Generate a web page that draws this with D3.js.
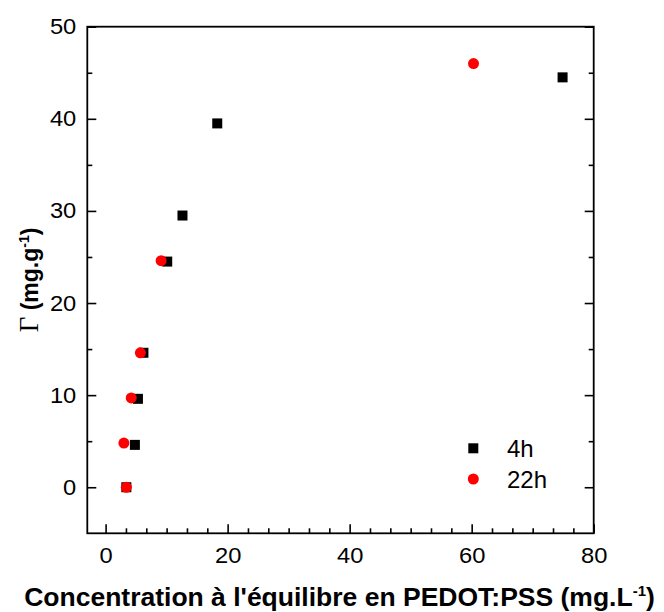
<!DOCTYPE html>
<html><head><meta charset="utf-8">
<script src="https://cdn.jsdelivr.net/npm/d3@7"></script>
<style>
body{margin:0;background:#fff;}
svg{display:block;font-family:Arial,"Liberation Sans",sans-serif;}
</style></head><body>
<svg id="c" width="664" height="612"></svg>
<script>
const series4hX = [3.4, 4.8, 5.3, 6.2, 10.1, 12.6, 18.3, 74.9];
const series4hY = [0.0, 4.6, 9.6, 14.6, 24.5, 29.5, 39.5, 44.5];
const series22hX = [3.4, 3.0, 4.2, 5.7, 9.1, 60.3];
const series22hY = [0.0, 4.8, 9.7, 14.6, 24.6, 46.0];
const xTicks = [0, 20, 40, 60, 80];
const yTicks = [0, 10, 20, 30, 40, 50];
const seriesNames = ["4h", "22h"];

const svg = d3.select("#c");
const L = 87.3, R = 593.7, T = 26.7, B = 533.3;
const x = d3.scaleLinear().domain([-3, 80]).range([L, R]);
const y = d3.scaleLinear().domain([-5, 50]).range([B, T]);

const xMinor = d3.range(1, 25).map(i => i * 20 / 6).filter(v => v % 20 > 0.01 && v % 20 < 19.99);
const yMinor = [5, 15, 25, 35, 45];

function styleAxis(g){
  g.select(".domain").remove();
  g.selectAll(".tick line").attr("stroke", "#000").attr("stroke-width", 1.6);
  g.selectAll(".tick text").attr("font-size", 22).attr("fill", "#000")
    .attr("font-family", "Arial, 'Liberation Sans', sans-serif")
    .attr("textLength", function(){ return this.textContent.length * 13.2; })
    .attr("lengthAdjust", "spacingAndGlyphs");
}

// bottom axis
svg.append("g").attr("transform", `translate(0,${B})`)
  .call(d3.axisBottom(x).tickValues(xTicks).tickSize(-9).tickPadding(14).tickFormat(d3.format("d")))
  .call(styleAxis);
svg.append("g").attr("transform", `translate(0,${B})`)
  .call(d3.axisBottom(x).tickValues(xMinor).tickSize(-5).tickFormat(""))
  .call(styleAxis);
// left axis
svg.append("g").attr("transform", `translate(${L},0)`)
  .call(d3.axisLeft(y).tickValues(yTicks).tickSize(-9).tickPadding(11).tickFormat(d3.format("d")))
  .call(styleAxis);
svg.append("g").attr("transform", `translate(${L},0)`)
  .call(d3.axisLeft(y).tickValues(yMinor).tickSize(-5).tickFormat(""))
  .call(styleAxis);
// right axis
svg.append("g").attr("transform", `translate(${R},0)`)
  .call(d3.axisRight(y).tickValues(yTicks).tickSize(-9).tickFormat(""))
  .call(styleAxis);
svg.append("g").attr("transform", `translate(${R},0)`)
  .call(d3.axisRight(y).tickValues(yMinor).tickSize(-5).tickFormat(""))
  .call(styleAxis);

// frame
svg.append("rect").attr("x", L).attr("y", T).attr("width", R - L).attr("height", B - T)
  .attr("fill", "none").attr("stroke", "#000").attr("stroke-width", 1.8);

// data
const d4 = series4hX.map((v, i) => ({x: v, y: series4hY[i]}));
const d22 = series22hX.map((v, i) => ({x: v, y: series22hY[i]}));
const sq = 10;
svg.append("g").selectAll("rect").data(d4).join("rect")
  .attr("x", d => x(d.x) - sq / 2).attr("y", d => y(d.y) - sq / 2)
  .attr("width", sq).attr("height", sq).attr("fill", "#000");
svg.append("g").selectAll("circle").data(d22).join("circle")
  .attr("cx", d => x(d.x)).attr("cy", d => y(d.y)).attr("r", 5.5).attr("fill", "#ff0000");

// legend
const lg = svg.append("g");
lg.append("rect").attr("x", 473.3 - sq / 2).attr("y", 448.3 - sq / 2).attr("width", sq).attr("height", sq).attr("fill", "#000");
lg.append("circle").attr("cx", 473.3).attr("cy", 479).attr("r", 5.5).attr("fill", "#ff0000");
lg.append("text").attr("x", 507).attr("y", 457).attr("font-size", 24).text(seriesNames[0]);
lg.append("text").attr("x", 507).attr("y", 488).attr("font-size", 24).text(seriesNames[1]);

// x title
const xt = svg.append("text").attr("x", 339.5).attr("y", 606).attr("text-anchor", "middle")
  .attr("font-size", 26.5).attr("font-weight", "bold");
xt.append("tspan").text("Concentration à l'équilibre en PEDOT:PSS (mg.L");
xt.append("tspan").attr("dy", -10).attr("font-size", 15).text("-1");
xt.append("tspan").attr("dy", 10).text(")");

// y title
const yt = svg.append("text").attr("transform", "translate(37.5,280) rotate(-90)").attr("text-anchor", "middle")
  .attr("font-size", 23).attr("font-weight", "bold");
yt.append("tspan").attr("font-family", "'Liberation Serif','Times New Roman',serif").attr("font-weight", "normal").attr("font-size", 27).text("Γ");
yt.append("tspan").text(" (mg.g");
yt.append("tspan").attr("dy", -9).attr("font-size", 14).text("-1");
yt.append("tspan").attr("dy", 9).text(")");
</script>
</body></html>
